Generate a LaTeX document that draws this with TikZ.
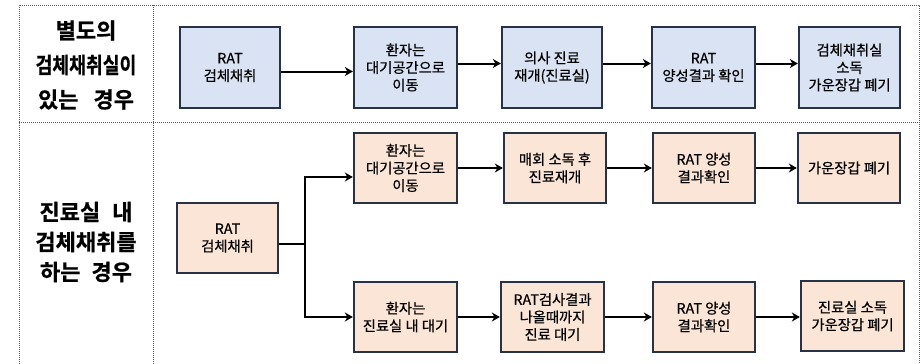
\documentclass[tikz,border=0pt]{standalone}
\usepackage{fontspec}
\setmainfont{Noto Sans CJK KR}
\newfontfamily\boxfont{Noto Sans CJK KR}[FakeBold=0.5]
\newfontfamily\labelfont{Noto Sans CJK KR Bold}[FakeBold=0.8]
\usetikzlibrary{arrows.meta}
\definecolor{bluefill}{RGB}{218,227,243}
\definecolor{peachfill}{RGB}{251,229,214}
\definecolor{boxline}{RGB}{40,50,70}
\definecolor{gridline}{RGB}{90,90,90}
\begin{document}
\begin{tikzpicture}[x=1pt,y=-1pt,
  grid/.style={draw=gridline,line width=1pt,dash pattern=on 1pt off 1pt},
  flowbox/.style={draw=boxline,line width=2.3pt,align=center,inner sep=1pt,
    font=\boxfont\fontsize{14.3}{17.5}\selectfont},
  bluebox/.style={flowbox,fill=bluefill,minimum height=81pt},
  peachbox/.style={flowbox,fill=peachfill,minimum height=70pt},
  flow/.style={draw=black,line width=2pt,-{Stealth[length=8pt,width=9pt,inset=2.5pt]}},
  plainline/.style={draw=black,line width=2pt},
  caselabel/.style={align=center,font=\labelfont\fontsize{22}{34.5}\selectfont}
]
\useasboundingbox (0,0) rectangle (924,364);
% table grid
\draw[grid] (19,370) -- (19,5) -- (919,5) -- (919,370);
\draw[grid] (19,122) -- (919,122);
\draw[grid] (153,5) -- (153,370);

% case labels
\node[caselabel] (lab1) at (86,65) {별도의\\\scalebox{0.83}[1]{검체채취실이}\\있는\hspace{10pt} 경우};
\node[caselabel,font=\labelfont\fontsize{22}{30}\selectfont] (lab2) at (86,242) {진료실\hspace{7pt} 내\\검체채취를\\하는\hspace{6pt} 경우};

% row 1
\node[bluebox,minimum width=100pt] (b1) at (230,67.5) {RAT\\검체채취};
\node[bluebox,minimum width=103pt] (b2) at (405.5,67.5) {환자는\\대기공간으로\\이동};
\node[bluebox,minimum width=100pt] (b3) at (552,67.5) {의사 진료\\재개(진료실)};
\node[bluebox,minimum width=103pt] (b4) at (703.5,67.5) {RAT\\양성결과 확인};
\node[bluebox,minimum width=101pt] (b5) at (849.5,67.5) {검체채취실\\소독\\가운장갑 폐기};

\draw[flow] ([yshift=-4pt]b1.east) -- ([yshift=-4pt]b2.west);
\draw[flow] ([yshift=4pt]b2.east) -- ([yshift=4pt]b3.west);
\draw[flow] ([yshift=4pt]b3.east) -- ([yshift=4pt]b4.west);
\draw[flow] ([yshift=4pt]b4.east) -- ([yshift=4pt]b5.west);

% row 2
\node[peachbox,minimum width=101pt] (r0) at (227.5,238) {RAT\\검체채취};

\node[peachbox,minimum width=103pt] (u1) at (405.5,168) {환자는\\대기공간으로\\이동};
\node[peachbox,minimum width=102pt] (u2) at (555,168) {매회 소독 후\\진료재개};
\node[peachbox,minimum width=102pt] (u3) at (704,168) {RAT 양성\\결과확인};
\node[peachbox,minimum width=102pt] (u4) at (849,168) {가운장갑 폐기};

\node[peachbox,minimum width=103pt] (l1) at (405.5,317) {환자는\\진료실 내 대기};
\node[peachbox,minimum width=103pt] (l2) at (552.5,317) {RAT검사결과\\나올때까지\\진료 대기};
\node[peachbox,minimum width=102pt] (l3) at (704,317) {RAT 양성\\결과확인};
\node[peachbox,minimum width=103pt] (l4) at (852.5,316) {진료실 소독\\가운장갑 폐기};

\coordinate (brM) at (305,244);
\coordinate (brU) at (305,177);
\coordinate (brL) at (305,317);
\draw[plainline] ([yshift=-6pt]r0.east) -- (brM);
\draw[flow] (brM) -- (brU) -- ([yshift=-9pt]u1.west);
\draw[flow] (brM) -- (brL) -- (l1.west);

\draw[flow] (u1) -- (u2);
\draw[flow] (u2) -- (u3);
\draw[flow] (u3) -- (u4);
\draw[flow] (l1) -- (l2);
\draw[flow] (l2) -- (l3);
\draw[flow] (l3.east) -- (l3.east -| l4.west);
\end{tikzpicture}
\end{document}
